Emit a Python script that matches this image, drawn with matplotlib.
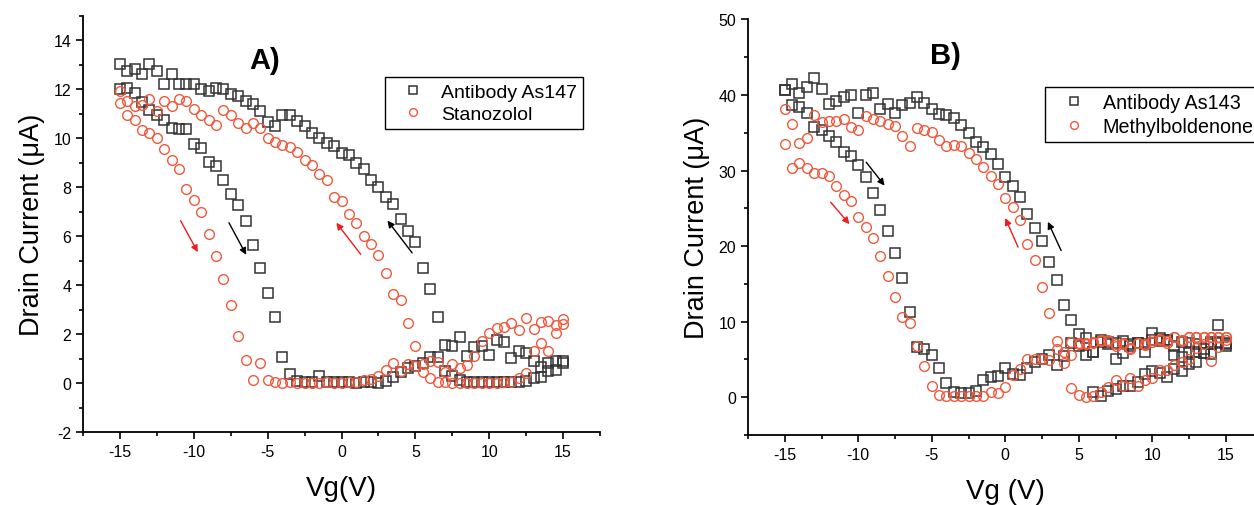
import numpy as np
import matplotlib
matplotlib.use("Agg")
from matplotlib import pyplot as plt
from matplotlib.ticker import MultipleLocator

plt.rcParams['font.family'] = ['Liberation Sans', 'DejaVu Sans']
plt.rcParams['axes.unicode_minus'] = False

# gate voltage sweeps, 0.5 V step
vg_up = np.arange(-15, 15.5, 0.5)
vg_down = vg_up[::-1]
vg_start_a = np.arange(6, 15.5, 0.5)     # first partial sweep, panel B squares
vg_start_b = np.arange(4.5, 15.5, 0.5)   # first partial sweep, panel B circles

# ---- panel A: Antibody As147 (squares) ----
a_sq_up = [12.0, 12.07, 11.85, 11.5, 11.14, 10.94, 10.76, 10.43, 10.37, 10.37,
           9.78, 9.6, 9.03, 8.87, 8.3, 7.73, 7.26, 6.62, 5.66, 4.7,
           3.7, 2.7, 1.08, 0.37, 0.1, 0.05, 0.05, 0.28, 0.05, 0.03,
           0.03, 0.03, 0.02, 0.03, 0.03, 0.0, 0.1, 0.24, 0.44, 0.6,
           0.7, 0.8, 1.08, 1.08, 0.5, 0.3, 0.12, 0.05, 0.05, 0.05,
           0.05, 0.05, 0.05, 0.05, 0.05, 0.1, 0.21, 0.23, 0.51, 0.53,
           0.8]
a_sq_down = [0.92, 0.92, 0.82, 0.67, 0.92, 1.22, 1.3, 1.03, 1.67, 1.76,
             1.16, 1.5, 1.46, 1.1, 1.9, 1.5, 1.56, 2.7, 3.85, 4.7,
             5.75, 6.2, 6.7, 7.3, 7.6, 8.0, 8.3, 8.75, 9.0, 9.3,
             9.4, 9.7, 9.8, 10.0, 10.2, 10.5, 10.7, 10.94, 10.94, 10.5,
             10.67, 11.1, 11.42, 11.52, 11.75, 11.82, 12.0, 12.06, 11.93, 12.03,
             12.23, 12.23, 12.23, 12.64, 12.23, 12.74, 13.05, 12.64, 12.85, 12.74,
             13.05]
# ---- panel A: Stanozolol (circles) ----
a_ci_up = [11.46, 10.94, 10.76, 10.35, 10.23, 10.02, 9.57, 9.1, 8.73, 7.94,
           7.49, 6.98, 6.1, 5.2, 4.25, 3.2, 1.94, 0.96, 0.14, 0.82,
           0.13, 0.03, 0.02, 0.05, 0.02, 0.02, 0.02, 0.02, 0.03, 0.02,
           0.02, 0.03, 0.05, 0.14, 0.17, 0.28, 0.55, 0.82, 0.48, 0.78,
           0.71, 0.78, 0.2, 0.03, 0.03, 0.0, 0.02, 0.02, 0.02, 0.02,
           0.02, 0.02, 0.03, 0.05, 0.2, 0.4, 1.33, 1.64, 1.3, 2.05,
           2.4]
a_ci_down = [2.6, 2.39, 2.55, 2.5, 2.2, 2.66, 2.17, 2.46, 2.28, 2.25,
             2.05, 1.7, 1.1, 0.75, 0.6, 0.78, 0.47, 0.85, 0.89, 0.47,
             1.5, 2.46, 3.4, 3.65, 4.5, 5.25, 5.7, 6.0, 6.55, 6.9,
             7.45, 7.6, 8.3, 8.55, 8.9, 9.1, 9.45, 9.65, 9.71, 9.85,
             10.02, 10.43, 10.64, 10.43, 10.64, 10.94, 11.14, 10.53, 10.73, 10.94,
             11.21, 11.52, 11.62, 11.32, 11.52, 11.12, 11.62, 11.35, 11.32, 11.52,
             11.92]

# ---- panel B: Antibody As143 (squares) ----
b_sq_start = [0.6, 0.1, 0.8, 1.0, 1.4, 1.4, 2.0, 3.0, 3.5, 3.2,
              2.6, 3.7, 3.4, 4.4, 4.7, 5.8, 5.7, 7.2, 7.0]
b_sq_up = [40.6, 38.7, 38.4, 37.6, 35.7, 35.3, 34.6, 33.8, 32.5, 31.9,
           30.7, 29.1, 27.0, 24.8, 22.0, 19.1, 15.7, 11.2, 6.6, 6.3,
           5.6, 3.8, 1.8, 0.7, 0.5, 0.5, 0.8, 2.2, 2.6, 2.8,
           3.8, 3.0, 2.9, 3.9, 4.7, 5.0, 5.5, 4.2, 5.4, 7.2,
           6.8, 5.6, 6.0, 7.3, 7.0, 7.2, 7.4, 7.0, 7.2, 7.0,
           7.5, 7.4, 7.6, 5.5, 5.3, 5.9, 6.0, 6.3, 7.0, 7.3,
           7.2]
b_sq_down = [6.8, 9.5, 7.3, 5.8, 7.0, 7.2, 7.3, 6.7, 7.6, 7.8,
             8.5, 5.9, 7.2, 6.8, 5.8, 5.1, 7.3, 7.5, 6.0, 7.8,
             8.3, 10.2, 12.2, 15.5, 17.9, 20.7, 22.4, 24.2, 26.5, 27.9,
             29.1, 30.8, 32.2, 33.1, 33.8, 35.0, 36.0, 36.9, 37.3, 37.5,
             38.1, 38.9, 39.8, 39.0, 38.7, 37.6, 38.8, 38.2, 40.3, 40.0,
             37.6, 40.0, 39.7, 39.2, 38.8, 40.8, 42.2, 41.1, 40.2, 41.5,
             40.6]
# ---- panel B: Methylboldenone (circles) ----
b_ci_start = [1.15, 0.25, 0.05, 0.2, 0.7, 1.3, 2.25, 1.5, 2.5, 1.5,
              2.25, 2.5, 3.6, 3.6, 4.3, 4.7, 5.0, 6.5, 7.0, 4.8,
              6.6, 7.6]
b_ci_up = [33.5, 30.3, 31.0, 30.3, 29.7, 29.7, 29.3, 27.9, 26.8, 25.9,
           23.9, 22.5, 21.0, 18.7, 16.0, 13.2, 10.6, 9.8, 6.8, 4.1,
           1.4, 0.3, 0.1, 0.1, 0.1, 0.2, 0.1, 0.2, 0.7, 0.5,
           1.3, 2.9, 3.7, 5.0, 5.0, 5.0, 4.9, 6.3, 4.5, 7.3,
           7.0, 7.2, 7.3, 7.5, 7.5, 6.8, 7.1, 6.3, 7.2, 6.9,
           7.5, 7.7, 7.2, 8.0, 7.4, 8.0, 8.0, 7.9, 8.0, 8.0,
           7.9]
b_ci_down = [8.0, 8.0, 7.9, 8.0, 8.0, 7.9, 7.5, 7.9, 7.4, 7.5,
             7.3, 7.0, 7.1, 6.5, 7.0, 7.0, 7.4, 7.4, 7.2, 7.0,
             7.1, 5.6, 5.9, 7.4, 11.1, 14.6, 18.1, 20.2, 23.4, 25.2,
             26.3, 28.2, 29.3, 30.4, 31.5, 32.3, 33.3, 33.4, 33.2, 34.0,
             35.1, 35.4, 35.6, 33.2, 34.6, 35.9, 36.2, 36.6, 36.8, 37.2,
             35.4, 35.8, 36.8, 36.6, 36.5, 36.4, 37.3, 34.3, 33.6, 36.2,
             38.2]

sq_color = '#333333'
ci_color = '#f0583c'
arrow_red = '#ee1c1c'

fig = plt.figure(figsize=(12.54, 5.06), dpi=100)
axA = fig.add_axes([0.0662, 0.1443, 0.4123, 0.8221])
axB = fig.add_axes([0.5965, 0.1388, 0.4103, 0.8207])

def style_axes(ax):
    for s in ['top', 'right']:
        ax.spines[s].set_visible(False)
    for s in ['left', 'bottom']:
        ax.spines[s].set_linewidth(1.3)
    ax.tick_params(which='both', direction='out', width=1.2, labelsize=11.5)
    ax.tick_params(which='major', length=5)
    ax.tick_params(which='minor', length=3)
    ax.xaxis.set_major_locator(MultipleLocator(5))
    ax.xaxis.set_minor_locator(MultipleLocator(2.5))
    ax.set_xlim(-17.5, 17.5)

def scatter(ax, x, y, kind, label=None):
    if kind == 'sq':
        ax.plot(x, y, ls='none', marker='s', ms=6.5, mfc='none', mec=sq_color,
                mew=1.1, label=label, clip_on=False)
    else:
        ax.plot(x, y, ls='none', marker='o', ms=7, mfc='none', mec=ci_color,
                mew=1.0, label=label, clip_on=False)

def arrow(ax, start, end, color):
    ax.annotate('', xy=end, xytext=start,
                arrowprops=dict(arrowstyle='-|>', color=color, lw=1.0,
                                mutation_scale=10, shrinkA=0, shrinkB=0))

# panel A
scatter(axA, vg_up, a_sq_up, 'sq', 'Antibody As147')
scatter(axA, vg_down, a_sq_down, 'sq')
scatter(axA, vg_up, a_ci_up, 'ci', 'Stanozolol')
scatter(axA, vg_down, a_ci_down, 'ci')
style_axes(axA)
axA.set_ylim(-2, 15)
axA.yaxis.set_major_locator(MultipleLocator(2))
axA.yaxis.set_minor_locator(MultipleLocator(1))
axA.set_xlabel('Vg(V)', fontsize=20, labelpad=12)
axA.set_ylabel('Drain Current (μA)', fontsize=19.5, labelpad=6)
axA.text(-5.2, 13.2, 'A)', fontsize=21, fontweight='bold', ha='center', va='center')
arrow(axA, (-10.9, 6.64), (-9.73, 5.35), arrow_red)
arrow(axA, (-7.62, 6.55), (-6.45, 5.24), 'black')
arrow(axA, (1.3, 5.26), (-0.35, 6.55), arrow_red)
arrow(axA, (4.78, 5.32), (3.11, 6.64), 'black')
axA.legend(loc='upper left', bbox_to_anchor=(0.584, 0.853), fontsize=14,
           frameon=True, fancybox=False, edgecolor='black', framealpha=1,
           borderpad=0.3, handlelength=2.3, handletextpad=0.3,
           labelspacing=0.25, markerscale=0.8, borderaxespad=0)

# panel B
scatter(axB, vg_start_a, b_sq_start, 'sq')
scatter(axB, vg_up, b_sq_up, 'sq', 'Antibody As143')
scatter(axB, vg_down, b_sq_down, 'sq')
scatter(axB, vg_start_b, b_ci_start, 'ci')
scatter(axB, vg_up, b_ci_up, 'ci', 'Methylboldenone')
scatter(axB, vg_down, b_ci_down, 'ci')
style_axes(axB)
axB.set_ylim(-5, 50)
axB.yaxis.set_major_locator(MultipleLocator(10))
axB.yaxis.set_minor_locator(MultipleLocator(5))
axB.set_xlabel('Vg (V)', fontsize=20, labelpad=12)
axB.set_ylabel('Drain Current (μA)', fontsize=19.5, labelpad=6)
axB.text(-4.1, 45.3, 'B)', fontsize=21, fontweight='bold', ha='center', va='center')
arrow(axB, (-9.46, 31.1), (-8.21, 28.0), 'black')
arrow(axB, (-11.875, 25.8), (-10.6, 22.9), arrow_red)
arrow(axB, (0.87, 19.86), (0.0, 23.7), arrow_red)
arrow(axB, (3.8, 19.4), (2.9, 23.2), 'black')
axB.legend(loc='upper left', bbox_to_anchor=(0.578, 0.838), fontsize=14.2,
           frameon=True, fancybox=False, edgecolor='black', framealpha=1,
           borderpad=0.3, handlelength=2.3, handletextpad=0.3,
           labelspacing=0.25, markerscale=0.8, borderaxespad=0)

fig.savefig('out.png', dpi=100)
